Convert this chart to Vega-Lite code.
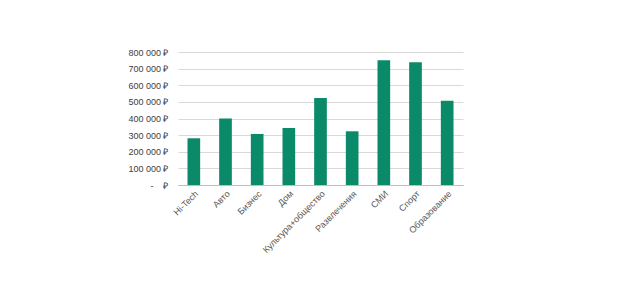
{
  "$schema": "https://vega.github.io/schema/vega-lite/v6.json",
  "width": 285,
  "height": 133,
  "autosize": "none",
  "padding": {"left": 178, "top": 52, "right": 157, "bottom": 103},
  "background": "white",
  "config": {"view": {"stroke": null}, "font": "Liberation Sans"},
  "data": {"values": [
    {"category": "Hi-Tech", "value": 281000},
    {"category": "Авто", "value": 400000},
    {"category": "Бизнес", "value": 307000},
    {"category": "Дом", "value": 343000},
    {"category": "Культура+общество", "value": 523000},
    {"category": "Развлечения", "value": 323000},
    {"category": "СМИ", "value": 751000},
    {"category": "Спорт", "value": 739000},
    {"category": "Образование", "value": 507000}
  ]},
  "mark": {"type": "bar", "color": "#0A8A68"},
  "encoding": {
    "x": {
      "field": "category", "type": "nominal", "sort": null,
      "scale": {"paddingInner": 0.6, "paddingOuter": 0.3},
      "axis": {
        "title": null, "labelAngle": -45, "labelAlign": "right", "labelBaseline": "top",
        "labelFontSize": 9, "labelColor": "#595959", "ticks": false, "labelPadding": 4,
        "domainColor": "#BFBFBF", "labelOverlap": false, "labelLimit": 200
      }
    },
    "y": {
      "field": "value", "type": "quantitative",
      "scale": {"domain": [0, 800000], "nice": false},
      "axis": {
        "title": null, "values": [0,100000,200000,300000,400000,500000,600000,700000,800000],
        "labelExpr": "datum.value == 0 ? '-\u00a0\u00a0\u00a0\u00a0₽' : format(datum.value/1000, 'd') + ' 000 ₽'",
        "labelFontSize": 9, "labelColor": "#404040", "ticks": false, "domain": false,
        "labelPadding": 10, "gridColor": "#D9D9D9", "gridWidth": 1
      }
    }
  }
}
